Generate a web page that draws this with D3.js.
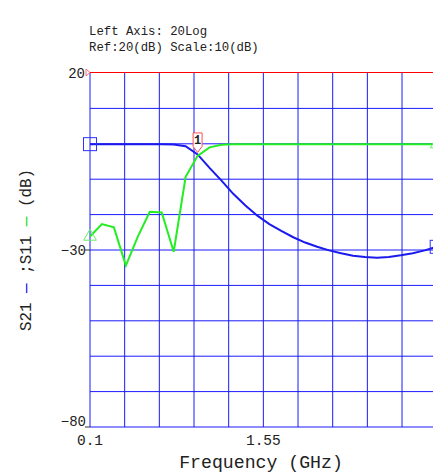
<!DOCTYPE html>
<html>
<head>
<meta charset="utf-8">
<script src="https://cdn.jsdelivr.net/npm/d3@7"></script>
<style>
    body { margin: 0; background: #fff; }
    text { font-family: "Liberation Mono", "DejaVu Sans Mono", monospace; fill: #222; }
</style>
</head>
<body>
<div id="chart"></div>
<script>
// Sweep points (GHz)
const freqGHz = [0.1, 0.2, 0.3, 0.4, 0.5, 0.6, 0.7, 0.8, 0.9, 1.0,
                 1.1, 1.2, 1.3, 1.4, 1.5, 1.6, 1.7, 1.8, 1.9, 2.0,
                 2.1, 2.2, 2.3, 2.4, 2.5, 2.6, 2.7, 2.8, 2.9, 3.0];

// S21 (dB) - blue trace
const s21 = [-0.1, -0.1, -0.1, -0.1, -0.1, -0.1, -0.1, -0.2, -0.7, -3.0,
             -6.8, -10.4, -14.2, -17.4, -20.3, -22.7, -24.6, -26.4, -27.9, -29.1,
             -30.1, -30.9, -31.6, -32.0, -32.2, -32.0, -31.5, -30.9, -30.1, -29.1];

// S11 (dB) - green trace
const s11 = [-26.2, -22.7, -23.6, -34.4, -26.2, -19.2, -19.4, -30.5, -9.3, -3.4,
             -1.0, -0.3, -0.1, -0.1, -0.1, -0.1, -0.1, -0.1, -0.1, -0.1,
             -0.1, -0.1, -0.1, -0.1, -0.1, -0.1, -0.1, -0.1, -0.1, -0.1];

const xTickValues = [0.1, 1.55, 3.0];
const xTickLabels = ["0.1", "1.55", "3"];
const yTickValues = [20, -30, -80];
const headerLines = ["Left Axis: 20Log", "Ref:20(dB) Scale:10(dB)"];
const markerIndex = 9; // marker 1 sits at 1.0 GHz

const width = 433, height = 473;
const plot = { left: 90, right: 436.7, top: 73, bottom: 427 };

const x = d3.scaleLinear().domain([0.1, 3.0]).range([plot.left, plot.right]);
const y = d3.scaleLinear().domain([-80, 20]).range([plot.bottom, plot.top]);

const svg = d3.select("#chart").append("svg")
    .attr("width", width)
    .attr("height", height);

// header text
svg.append("g").selectAll("text")
    .data(headerLines)
    .join("text")
    .attr("x", 89)
    .attr("y", (d, i) => 35 + i * 15.5)
    .attr("font-size", 12.3)
    .text(d => d);

// grid - 10 divisions each way
const xGrid = d3.range(11).map(i => 0.1 + i * 0.29);
const yGrid = d3.range(10, -81, -10);

svg.append("g").selectAll("line")
    .data(xGrid)
    .join("line")
    .attr("x1", d => x(d)).attr("x2", d => x(d))
    .attr("y1", plot.top).attr("y2", plot.bottom)
    .attr("stroke", "#1a1aff")
    .attr("stroke-width", 1);

svg.append("g").selectAll("line")
    .data(yGrid)
    .join("line")
    .attr("x1", plot.left).attr("x2", plot.right)
    .attr("y1", d => y(d)).attr("y2", d => y(d))
    .attr("stroke", "#1a1aff")
    .attr("stroke-width", 1);

// reference line at 20 dB
svg.append("line")
    .attr("x1", plot.left).attr("x2", plot.right)
    .attr("y1", y(20) - 0.5).attr("y2", y(20) - 0.5)
    .attr("stroke", "#ff0000")
    .attr("stroke-width", 1);

// small reference pointer on the left
svg.append("path")
    .attr("d", `M${plot.left - 4},${y(20) - 4} L${plot.left},${y(20) - 0.5} L${plot.left - 4},${y(20) + 3} Z`)
    .attr("fill", "none")
    .attr("stroke", "#ff7070")
    .attr("stroke-width", 1);

// y tick labels
svg.append("g").selectAll("line")
    .data(yTickValues.slice(1))
    .join("line")
    .attr("x1", plot.left - 5).attr("x2", plot.left)
    .attr("y1", d => y(d)).attr("y2", d => y(d))
    .attr("stroke", "#333");

svg.append("g").selectAll("text")
    .data(yTickValues)
    .join("text")
    .attr("x", d => d === 20 ? plot.left - 5 : plot.left - 4)
    .attr("y", d => d === -80 ? y(d) - 1 : y(d) + 5)
    .attr("text-anchor", "end")
    .attr("font-size", 14)
    .text(d => String(d).replace("-", "\u2212"));

// x tick labels
svg.append("g").selectAll("text")
    .data(xTickValues)
    .join("text")
    .attr("x", d => x(d))
    .attr("y", 445)
    .attr("text-anchor", "middle")
    .attr("font-size", 14.5)
    .text((d, i) => xTickLabels[i]);

// axis titles
svg.append("text")
    .attr("x", 261)
    .attr("y", 468)
    .attr("text-anchor", "middle")
    .attr("font-size", 18.2)
    .text("Frequency (GHz)");

const yTitle = svg.append("text")
    .attr("transform", `translate(31, ${(plot.top + plot.bottom) / 2}) rotate(-90)`)
    .attr("text-anchor", "middle")
    .attr("font-size", 15.9);
yTitle.append("tspan").text("S21 ");
yTitle.append("tspan").text("\u2014").style("fill", "#0000ff");
yTitle.append("tspan").text(" ;S11 ");
yTitle.append("tspan").text("\u2014").style("fill", "#00dd00");
yTitle.append("tspan").text(" (dB)");

// traces
const line = d3.line()
    .x(d => x(d[0]))
    .y(d => y(d[1]));

svg.append("path")
    .datum(freqGHz.map((f, i) => [f, s21[i]]))
    .attr("d", line)
    .attr("fill", "none")
    .attr("stroke", "#1a1aee")
    .attr("stroke-width", 2);

svg.append("path")
    .datum(freqGHz.map((f, i) => [f, s11[i]]))
    .attr("d", line)
    .attr("fill", "none")
    .attr("stroke", "#22ee22")
    .attr("stroke-width", 2);

// end markers
const first = 0, last = freqGHz.length - 1;
svg.append("g").selectAll("rect")
    .data([first, last])
    .join("rect")
    .attr("x", i => x(freqGHz[i]) - 6.5)
    .attr("y", i => y(s21[i]) - 6.5)
    .attr("width", 13).attr("height", 13)
    .attr("fill", "none")
    .attr("stroke", "#3030ff")
    .attr("stroke-width", 1);

const tri = d3.symbol().type(d3.symbolTriangle).size(70);
svg.append("g").selectAll("path")
    .data([first, last])
    .join("path")
    .attr("transform", i => `translate(${x(freqGHz[i])}, ${y(s11[i])})`)
    .attr("d", tri)
    .attr("fill", "none")
    .attr("stroke", "#66ee66")
    .attr("stroke-width", 1);

// marker 1
const mx = x(freqGHz[markerIndex]);
const my = y(s21[markerIndex]);
const mk = svg.append("g");
mk.append("path")
    .attr("d", `M${mx - 4.5},${my - 21.5} H${mx + 4.5} V${my - 8} L${mx},${my - 2} L${mx - 4.5},${my - 8} Z`)
    .attr("fill", "#fff")
    .attr("stroke", "#ff5050")
    .attr("stroke-width", 1);
mk.append("text")
    .attr("x", mx)
    .attr("y", my - 10)
    .attr("text-anchor", "middle")
    .attr("font-size", 12)
    .attr("font-weight", "bold")
    .text("1");
</script>
</body>
</html>
